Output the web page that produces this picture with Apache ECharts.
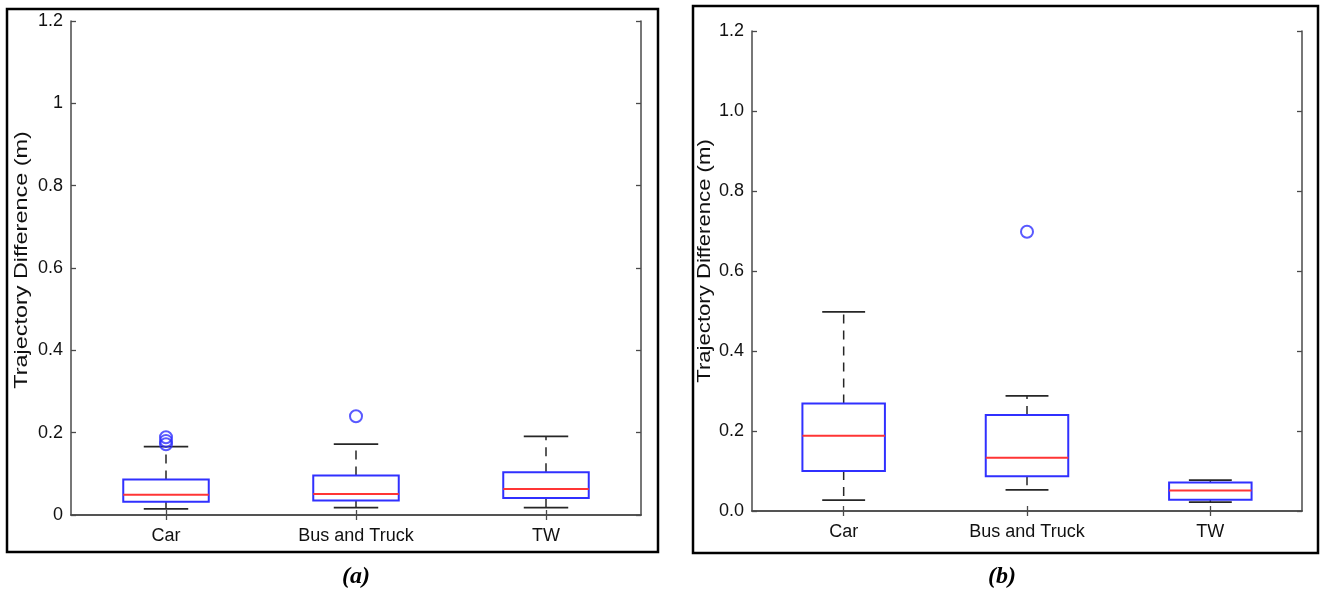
<!DOCTYPE html>
<html>
<head>
<meta charset="utf-8">
<script src="https://cdn.jsdelivr.net/npm/echarts@6/dist/echarts.min.js"></script>
<style>
html,body{margin:0;padding:0;background:#fff;}
#chart{width:1320px;height:591px;}
</style>
</head>
<body>
<div id="chart"></div>
<script>
// ---- data ----
const categories = ['Car', 'Bus and Truck', 'TW'];
// each row: [lower whisker, Q1, median, Q3, upper whisker]
const boxA = [
  [0.015, 0.032, 0.049, 0.086, 0.166],
  [0.018, 0.035, 0.051, 0.096, 0.172],
  [0.018, 0.041, 0.063, 0.104, 0.191]
];
const outliersA = [[0, 0.172], [0, 0.180], [0, 0.189], [1, 0.240]];
const boxB = [
  [0.027, 0.100, 0.188, 0.269, 0.498],
  [0.053, 0.087, 0.133, 0.240, 0.288],
  [0.022, 0.028, 0.051, 0.071, 0.077]
];
const outliersB = [[1, 0.698]];
const yLabelsA = ['0', '0.2', '0.4', '0.6', '0.8', '1', '1.2'];
const yLabelsB = ['0.0', '0.2', '0.4', '0.6', '0.8', '1.0', '1.2'];
const yTitle = 'Trajectory Difference (m)';
const captions = ['(a)', '(b)'];

// ---- styles ----
const FONT = 'Liberation Sans, Arial, sans-serif';
const AXIS_COLOR = '#4a4a4a';
const BOX_BLUE = '#3030ff';
const MED_RED = '#ff3535';
const WHISK = '#262626';

const chart = echarts.init(document.getElementById('chart'), null, {renderer: 'canvas'});

function renderBox(params, api) {
  const xi = api.value(0);
  const p = [1, 2, 3, 4, 5].map(i => api.coord([xi, api.value(i)]));
  const cw = api.size([1, 0])[0];
  const bw = cw * 0.45 / 2;
  const cap = cw * 0.117;
  const cx = p[0][0];
  const dash = {stroke: WHISK, lineWidth: 1.5, lineDash: [9, 7]};
  const solid = {stroke: WHISK, lineWidth: 1.8};
  return {
    type: 'group',
    children: [
      {type: 'line', shape: {x1: cx, y1: p[1][1], x2: cx, y2: p[0][1]}, style: dash},
      {type: 'line', shape: {x1: cx, y1: p[3][1], x2: cx, y2: p[4][1]}, style: dash},
      {type: 'line', shape: {x1: cx - cap, y1: p[0][1], x2: cx + cap, y2: p[0][1]}, style: solid},
      {type: 'line', shape: {x1: cx - cap, y1: p[4][1], x2: cx + cap, y2: p[4][1]}, style: solid},
      {type: 'rect', shape: {x: cx - bw, y: p[3][1], width: 2 * bw, height: p[1][1] - p[3][1]},
        style: {fill: 'none', stroke: BOX_BLUE, lineWidth: 2}},
      {type: 'line', shape: {x1: cx - bw, y1: p[2][1], x2: cx + bw, y2: p[2][1]},
        style: {stroke: MED_RED, lineWidth: 2}}
    ]
  };
}

function xAxes(gi, pos, showLabel) {
  return {
    type: 'category', gridIndex: gi, data: categories, position: pos,
    axisLine: {show: true, lineStyle: {color: AXIS_COLOR, width: 1.5}},
    axisTick: {show: true, inside: true, alignWithLabel: true, length: 5, lineStyle: {color: AXIS_COLOR, width: 1.3}},
    axisLabel: {show: showLabel, color: '#111', fontFamily: FONT, fontSize: 18, margin: 12},
    splitLine: {show: false}
  };
}
function yAxes(gi, pos, labels, showLabel) {
  return {
    type: 'value', gridIndex: gi, position: pos, min: 0, max: 1.2, interval: 0.2,
    axisLine: {show: true, lineStyle: {color: AXIS_COLOR, width: 1.5}},
    axisTick: {show: true, inside: true, length: 5, lineStyle: {color: AXIS_COLOR, width: 1.3}},
    axisLabel: {show: showLabel, color: '#111', fontFamily: FONT, fontSize: 18, margin: 8,
      formatter: v => labels[Math.round(v / 0.2)]},
    splitLine: {show: false}
  };
}

const option = {
  backgroundColor: '#fff',
  animation: false,
  grid: [
    {left: 71, top: 21, width: 570, height: 494},
    {left: 752, top: 31, width: 550, height: 480}
  ],
  xAxis: [xAxes(0, 'bottom', true), xAxes(0, 'top', false), xAxes(1, 'bottom', true), xAxes(1, 'top', false)],
  yAxis: [yAxes(0, 'left', yLabelsA, true), yAxes(0, 'right', yLabelsA, false),
          yAxes(1, 'left', yLabelsB, true), yAxes(1, 'right', yLabelsB, false)],
  series: [
    {type: 'custom', xAxisIndex: 0, yAxisIndex: 0, renderItem: renderBox,
      encode: {x: 0, y: [1, 2, 3, 4, 5]},
      data: boxA.map((r, i) => [i].concat(r))},
    {type: 'scatter', xAxisIndex: 0, yAxisIndex: 0, data: outliersA, symbol: 'circle', symbolSize: 12,
      itemStyle: {color: 'rgba(0,0,0,0)', borderColor: BOX_BLUE, borderWidth: 2}},
    {type: 'custom', xAxisIndex: 2, yAxisIndex: 2, renderItem: renderBox,
      encode: {x: 0, y: [1, 2, 3, 4, 5]},
      data: boxB.map((r, i) => [i].concat(r))},
    {type: 'scatter', xAxisIndex: 2, yAxisIndex: 2, data: outliersB, symbol: 'circle', symbolSize: 12,
      itemStyle: {color: 'rgba(0,0,0,0)', borderColor: BOX_BLUE, borderWidth: 2}}
  ],
  graphic: [
    {type: 'rect', shape: {x: 7, y: 9, width: 651, height: 543}, style: {fill: 'none', stroke: '#000', lineWidth: 2.5}, z: 10},
    {type: 'rect', shape: {x: 693, y: 6, width: 625, height: 547}, style: {fill: 'none', stroke: '#000', lineWidth: 2.5}, z: 10},
    {type: 'text', x: 22, y: 260, rotation: Math.PI / 2, scaleX: 1.3,
      style: {text: yTitle, fontFamily: FONT, fontSize: 18, fill: '#111', align: 'center', verticalAlign: 'middle'}},
    {type: 'text', x: 705, y: 261, rotation: Math.PI / 2, scaleX: 1.23,
      style: {text: yTitle, fontFamily: FONT, fontSize: 18, fill: '#111', align: 'center', verticalAlign: 'middle'}},
    {type: 'text', x: 356, y: 577,
      style: {text: captions[0], fontFamily: 'Liberation Serif, Times New Roman, serif', fontSize: 24, fontWeight: 'bold', fontStyle: 'italic', fill: '#000', align: 'center', verticalAlign: 'middle'}},
    {type: 'text', x: 1002, y: 577,
      style: {text: captions[1], fontFamily: 'Liberation Serif, Times New Roman, serif', fontSize: 24, fontWeight: 'bold', fontStyle: 'italic', fill: '#000', align: 'center', verticalAlign: 'middle'}}
  ]
};
chart.setOption(option);
</script>
</body>
</html>
